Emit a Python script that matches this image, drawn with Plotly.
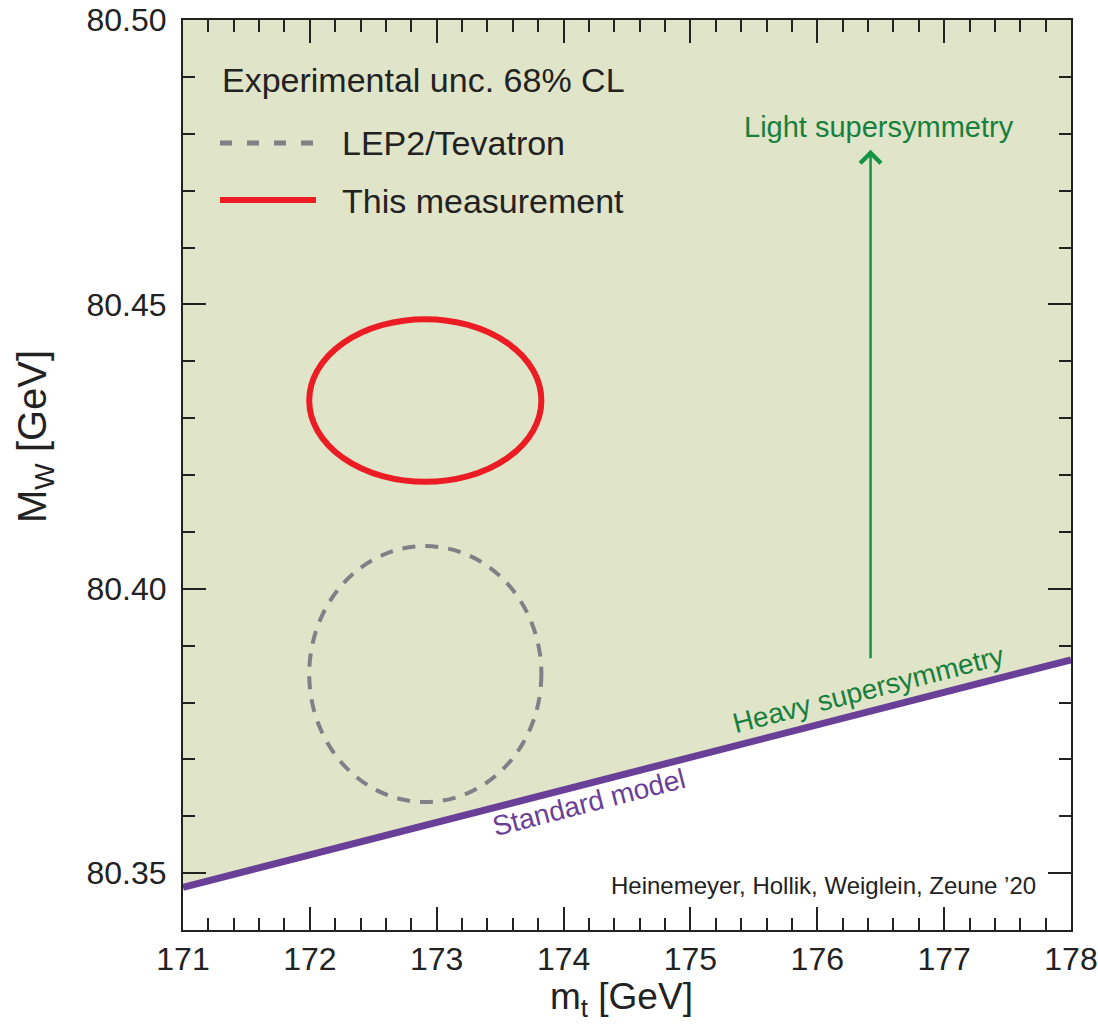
import plotly.graph_objects as go

# Axis ranges
mt_range = [171.0, 178.0]
mw_range = [80.34, 80.50]

# Standard-model prediction line (m_t, M_W)
sm_mt = [171.0, 178.0]
sm_mw = [80.3475, 80.3875]

# 68% CL ellipses: centre and half-widths
meas_center = (172.91, 80.4331)
meas_half = (0.915, 0.0143)
lep_center = (172.91, 80.385)
lep_half = (0.915, 0.0225)

# Arrow towards light supersymmetry
arrow_mt = 176.42
arrow_mw = [80.3875, 80.4772]

FONT = "Liberation Sans, Arial, sans-serif"
INK = "#222222"
GREEN_FILL = "#e0e4c8"
PURPLE = "#6a3f98"
RED = "#ec1c24"
GREY = "#808086"
DGREEN = "#17803f"

# Plot-area geometry in pixels
L, R, T, B = 183, 1071, 20, 930
W, H = 1098, 1025

fig = go.Figure()

# Region above the SM line (supersymmetry band)
fig.add_trace(go.Scatter(
    x=[sm_mt[0], sm_mt[1], sm_mt[1], sm_mt[0]],
    y=[sm_mw[0], sm_mw[1], mw_range[1], mw_range[1]],
    fill="toself", fillcolor=GREEN_FILL, line=dict(width=0),
    mode="lines", hoverinfo="skip", showlegend=False,
))

# SM line
fig.add_trace(go.Scatter(
    x=sm_mt, y=sm_mw, mode="lines",
    line=dict(color=PURPLE, width=7), showlegend=False,
))

shapes = []
# LEP2/Tevatron ellipse
shapes.append(dict(
    type="circle", xref="x", yref="y",
    x0=lep_center[0] - lep_half[0], x1=lep_center[0] + lep_half[0],
    y0=lep_center[1] - lep_half[1], y1=lep_center[1] + lep_half[1],
    line=dict(color=GREY, width=4, dash="13px,10px"),
))
# This measurement ellipse
shapes.append(dict(
    type="circle", xref="x", yref="y",
    x0=meas_center[0] - meas_half[0], x1=meas_center[0] + meas_half[0],
    y0=meas_center[1] - meas_half[1], y1=meas_center[1] + meas_half[1],
    line=dict(color=RED, width=6),
))


def px_x(px):
    return (px - L) / float(R - L)


def px_y(py):
    return (B - py) / float(B - T)


# Legend samples
shapes.append(dict(type="line", xref="paper", yref="paper",
                   x0=px_x(220), x1=px_x(316), y0=px_y(143), y1=px_y(143),
                   line=dict(color=GREY, width=5, dash="12px,15px")))
shapes.append(dict(type="line", xref="paper", yref="paper",
                   x0=px_x(220), x1=px_x(316), y0=px_y(200), y1=px_y(200),
                   line=dict(color=RED, width=6)))

annotations = [
    dict(x=px_x(220), y=px_y(80), xref="paper", yref="paper",
         text="Experimental unc. 68% CL", showarrow=False,
         xanchor="left", yanchor="middle", font=dict(family=FONT, size=34, color=INK)),
    dict(x=px_x(340), y=px_y(143), xref="paper", yref="paper",
         text="LEP2/Tevatron", showarrow=False,
         xanchor="left", yanchor="middle", font=dict(family=FONT, size=34, color=INK)),
    dict(x=px_x(340), y=px_y(201), xref="paper", yref="paper",
         text="This measurement", showarrow=False,
         xanchor="left", yanchor="middle", font=dict(family=FONT, size=34, color=INK)),
    # Arrow
    dict(x=arrow_mt, y=arrow_mw[1], ax=arrow_mt, ay=arrow_mw[0],
         xref="x", yref="y", axref="x", ayref="y", text="",
         showarrow=True, arrowhead=4, arrowsize=1.6, arrowwidth=2.5,
         arrowcolor="#159447"),
    dict(x=176.49, y=80.4812, xref="x", yref="y", text="Light supersymmetry",
         showarrow=False, xanchor="center", yanchor="middle",
         font=dict(family=FONT, size=29, color=DGREEN)),
    dict(x=176.40, y=80.3823, xref="x", yref="y", text="Heavy supersymmetry",
         showarrow=False, xanchor="center", yanchor="middle", textangle=-14.4,
         font=dict(family=FONT, size=28, color=DGREEN)),
    dict(x=174.2, y=80.3625, xref="x", yref="y", text="Standard model",
         showarrow=False, xanchor="center", yanchor="middle", textangle=-14.4,
         font=dict(family=FONT, size=28, color=PURPLE)),
    dict(x=px_x(1038), y=px_y(885), xref="paper", yref="paper",
         text="Heinemeyer, Hollik, Weiglein, Zeune \u201920", showarrow=False,
         xanchor="right", yanchor="middle", font=dict(family=FONT, size=24, color=INK)),
    # Axis titles
    dict(x=px_x(621), y=px_y(999), xref="paper", yref="paper",
         text="m<sub>t</sub> [GeV]", showarrow=False,
         xanchor="center", yanchor="middle", font=dict(family=FONT, size=37, color=INK)),
    dict(x=px_x(35), y=px_y(437), xref="paper", yref="paper",
         text="M<sub>W</sub> [GeV]", showarrow=False, textangle=-90,
         xanchor="center", yanchor="middle", font=dict(family=FONT, size=40, color=INK)),
]

axis_common = dict(
    showline=True, linecolor=INK, linewidth=2, mirror="allticks",
    ticks="inside", ticklen=23, tickwidth=2, tickcolor=INK,
    showgrid=False, zeroline=False, automargin=False,
    tickfont=dict(family=FONT, size=32, color=INK),
)

fig.update_xaxes(
    range=mt_range, dtick=1, tick0=171,
    minor=dict(dtick=0.2, ticks="inside", ticklen=12, tickwidth=1.5, tickcolor=INK),
    **axis_common,
)
fig.update_yaxes(
    range=mw_range, dtick=0.05, tick0=80.35, tickformat=".2f", ticklabelstandoff=8,
    minor=dict(dtick=0.01, ticks="inside", ticklen=12, tickwidth=1.5, tickcolor=INK),
    **axis_common,
)

fig.update_layout(
    template="none",
    width=W, height=H,
    margin=dict(l=L, r=W - R, t=T, b=H - B, pad=0),
    plot_bgcolor="white", paper_bgcolor="white",
    shapes=shapes, annotations=annotations, showlegend=False,
)

fig.write_html("out.html")
